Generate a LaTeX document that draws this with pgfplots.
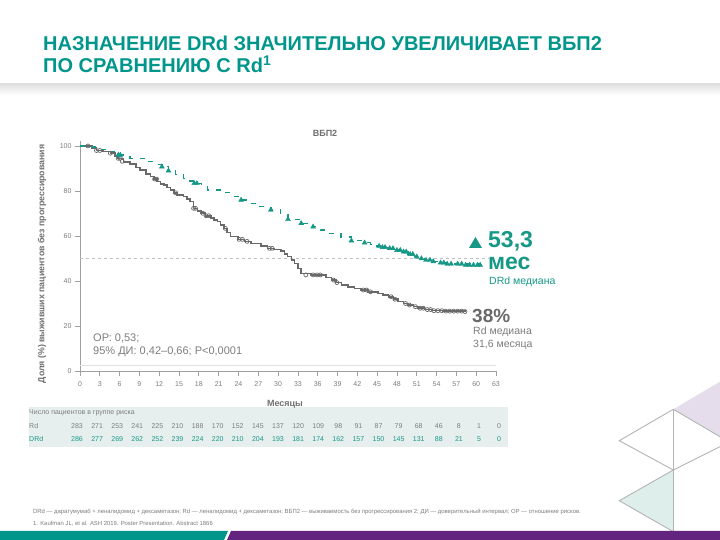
\documentclass[border=0pt]{standalone}
\usepackage{pgfplots}
\pgfplotsset{compat=1.18}
\usepackage{fontspec}
\setmainfont{Liberation Sans}

\definecolor{brandteal}{RGB}{0,150,140}
\definecolor{drdteal}{RGB}{22,152,134}
\definecolor{rdgray}{RGB}{105,105,105}
\definecolor{axisgray}{RGB}{160,160,160}
\definecolor{txtgray}{RGB}{125,125,125}
\definecolor{bandgray}{RGB}{231,239,238}
\definecolor{brandpurple}{RGB}{98,36,126}
\definecolor{lilac}{RGB}{229,221,235}
\definecolor{mint}{RGB}{221,238,235}
\definecolor{linegray}{RGB}{180,180,180}

\begin{document}
\begin{tikzpicture}[x=1pt,y=1pt]
\useasboundingbox (0,0) rectangle (720,540);
\fill[white] (0,0) rectangle (720,540);

% header shadow
\shade[top color=black!12, bottom color=white] (0,456) rectangle (720,445);

% title
\node[anchor=base west, inner sep=0pt, text=brandteal, font=\bfseries\fontsize{20}{22}\selectfont]
  at (43,489) {НАЗНАЧЕНИЕ DRd ЗНАЧИТЕЛЬНО УВЕЛИЧИВАЕТ ВБП2};
\node[anchor=base west, inner sep=0pt, text=brandteal, font=\bfseries\fontsize{20}{22}\selectfont]
  at (43,467) {ПО СРАВНЕНИЮ С Rd\textsuperscript{1}};

% risk table band
\fill[bandgray] (29,133) rectangle (508,93);

\begin{axis}[
  at={(80pt,169pt)}, anchor=south west,
  scale only axis, width=416pt, height=229.5pt,
  xmin=0, xmax=63, ymin=0, ymax=102,
  axis x line=bottom, axis y line=left,
  axis line style={-, draw=axisgray, line width=0.8pt},
  xtick={0,3,...,63}, ytick={0,20,...,100},
  tick align=outside, major tick length=5pt,
  tick style={draw=axisgray, line width=0.8pt},
  xticklabel style={font=\fontsize{7}{8}\selectfont, text=txtgray, yshift=-2pt},
  yticklabel style={font=\fontsize{7}{8}\selectfont, text=txtgray},
  /pgf/number format/assume math mode=true,
  clip=false,
]
% faint guide lines
\addplot[draw=black!12, line width=0.6pt] coordinates {(0,2.7)(63,2.7)};
\addplot[draw=black!25, dashed, line width=0.5pt] coordinates {(0,50)(62,50)};

% Rd
\addplot[const plot, draw=rdgray, line width=1.6pt] coordinates {
(0,100)(1.2,100)(1.8,99)(2.5,98)(3.5,97.5)(4.6,96.8)(5.3,95.5)(5.8,94.5)
(6.6,92.8)(7.6,92)(8.5,90.5)(9.1,89.3)(10,87.5)(10.7,86.4)(11.2,85.3)(11.7,84.2)
(12.2,83.2)(12.7,82.7)(13.2,81.5)(13.7,80.4)(14.2,79.2)(14.7,78.2)(15.7,77.5)
(16.2,76.4)(16.7,75.3)(17.2,72.3)(17.8,71.2)(18.3,70.1)(19,69)(19.8,67.9)
(20.3,67.2)(20.8,66.4)(21.3,65)(21.8,63.4)(22.3,61.5)(22.8,59.7)(23.9,58.5)
(24.9,57.6)(25.9,56.7)(27.4,55.6)(28.4,54.5)(29.4,54)(30.4,53.2)(31,52)
(31.4,50.8)(32,49.3)(32.5,47.8)(33,45.5)(33.5,43.4)(35,42.7)(36.5,42.7)
(37.3,41.5)(38.1,40.4)(38.8,39.3)(39.6,38.2)(40.6,37.4)(41.6,36.7)(42.6,36)
(43.6,35.2)(45.1,34.5)(45.9,33.8)(46.7,33)(47.5,31.9)(48.2,30.8)(49,30)
(49.7,29.3)(50.5,28.6)(51.2,27.9)(52.2,27.3)(53.3,26.8)(55,26.6)(58.3,26.4)
};
\addplot[only marks, mark=o, mark size=2pt, rdgray, mark options={line width=0.7pt}] coordinates {
(1.2,100)(2.5,98)(3,98)(4.6,96.8)(5.8,94.5)(6.1,94.5)(6.4,93.2)
(11.3,85.3)(11.6,85.3)(14.5,79.2)(17.2,72.3)(17.5,72.3)(18.6,70.1)(19.1,69)
(19.5,69)(22,63.4)(24.1,58.5)(24.6,58.5)(25.3,57.6)(28.7,54.5)(29.1,54.5)
(34.2,42.7)(35.3,42.7)(35.9,42.7)(36.4,42.7)(38.4,40.4)(38.9,39.3)
(42.9,36)(43.4,36)(44,35.2)(47.1,33)(47.7,31.9)(49.3,30)(49.9,29.3)
(50.8,28.6)(51.5,27.9)(52,27.9)(52.6,27.3)(53.1,27.3)(53.6,26.8)(54.2,26.8)
(54.8,26.8)(55.4,26.6)(56,26.6)(56.6,26.6)(57.2,26.6)(57.8,26.6)(58.3,26.4)
};

% DRd
\addplot[const plot, draw=drdteal, line width=1.4pt, dash pattern=on 5pt off 7pt] coordinates {
(0,100)(1.5,99.5)(3,98.5)(4.5,97.5)(5.8,96)(7.6,94.5)(10.1,93)(11.3,91.9)
(12.4,90.8)(13.4,89)(14.5,87.3)(15.7,85.6)(16.6,84.5)(17.5,83.4)(18.4,81.9)
(19.3,80.4)(21.8,79.2)(23.1,77.6)(24.4,76)(25.6,74.5)(26.9,73)(28.9,71.6)
(30.4,69.6)(31.5,67.4)(33.5,65.6)(35.3,64.1)(36.4,62.6)(37.5,61.2)(39.5,59.5)
(41.1,57.9)(43.1,57)(44,56.3)(45,55.5)(45.8,55)(46.7,54.5)(47.7,53.7)
(48.7,53)(49.7,51.9)(50.7,50.8)(51.5,50)(52.2,49.3)(53.2,48.7)(54.3,48.1)
(56.8,47.6)(60.6,47.1)
};
\addplot[only marks, mark=triangle*, mark size=2.8pt, drdteal] coordinates {
(5.8,96)(6.1,96)(12.4,90.8)(13.4,89)(17.3,83.4)(17.7,83.4)(24.4,76)
(28.9,71.6)(31.5,67.4)(33.5,65.6)(35.3,64.1)(41.1,57.9)(43.1,57)
(45.3,55.5)(45.8,55)(46.2,55)(46.9,54.5)(47.4,54.5)(48,53.7)(48.5,53.7)
(49,53)(49.4,53)(50,51.9)(50.4,51.9)(51,50.8)(51.7,50)(52.4,49.3)
(53,49.3)(53.5,48.7)(54.6,48.1)(55.1,48.1)(55.6,47.6)(56.2,47.6)(57.2,47.6)
(57.8,47.6)(58.4,47.1)(59,47.1)(59.6,47.1)(60.2,47.1)(60.6,47.1)
};
\end{axis}

% axis texts
\node[font=\bfseries\fontsize{9}{10}\selectfont, text=txtgray!90!black] at (325,407) {ВБП2};
\node[font=\bfseries\fontsize{9}{10}\selectfont, text=txtgray!90!black] at (285,136) {Месяцы};
\node[rotate=90, font=\bfseries\fontsize{8.8}{10}\selectfont, text=txtgray!90!black] at (42,276)
  {Доля (\%) выживших пациентов без прогрессирования};

\node[anchor=west, inner sep=0pt, font=\fontsize{11}{12}\selectfont, text=txtgray] at (93,202) {ОР: 0,53;};
\node[anchor=west, inner sep=0pt, font=\fontsize{11}{12}\selectfont, text=txtgray] at (93,188) {95\% ДИ: 0,42–0,66; P<0,0001};

% median annotations
\fill[drdteal] (469,292) -- (482,292) -- (475.5,303) -- cycle;
\node[anchor=west, inner sep=0pt, font=\bfseries\fontsize{23}{25}\selectfont, text=drdteal] at (488,299) {53,3};
\node[anchor=west, inner sep=0pt, font=\bfseries\fontsize{23}{25}\selectfont, text=drdteal] at (488,277) {мес};
\node[anchor=west, inner sep=0pt, font=\fontsize{10.5}{11}\selectfont, text=drdteal] at (489,258) {DRd медиана};

\node[anchor=west, inner sep=0pt, font=\bfseries\fontsize{19}{21}\selectfont, text=rdgray] at (472,224) {38\%};
\node[anchor=west, inner sep=0pt, font=\fontsize{10.5}{11}\selectfont, text=txtgray] at (473,208) {Rd медиана};
\node[anchor=west, inner sep=0pt, font=\fontsize{10.5}{11}\selectfont, text=txtgray] at (473,195) {31,6 месяца};

% risk table
\node[anchor=west, inner sep=0pt, font=\fontsize{7}{8}\selectfont, text=txtgray] at (29,127) {Число пациентов в группе риска};
\node[anchor=west, inner sep=0pt, font=\fontsize{7}{8}\selectfont, text=txtgray] at (29,114) {Rd};
\node[anchor=west, inner sep=0pt, font=\fontsize{7}{8}\selectfont, text=drdteal] at (29,101) {DRd};
\foreach \v [count=\k from 0] in {283,271,253,241,225,210,188,170,152,145,137,120,109,98,91,87,79,68,46,8,1,0}
  \node[font=\fontsize{7}{8}\selectfont, text=txtgray] at (77+\k*20.1,114) {\v};
\foreach \v [count=\k from 0] in {286,277,269,262,252,239,224,220,210,204,193,181,174,162,157,150,145,131,88,21,5,0}
  \node[font=\fontsize{7}{8}\selectfont, text=drdteal] at (77+\k*20.1,101) {\v};

% footnotes
\node[anchor=west, inner sep=0pt, font=\fontsize{5.9}{7}\selectfont, text=txtgray] at (33,28)
  {DRd — даратумумаб + леналидомид + дексаметазон; Rd — леналидомид + дексаметазон; ВБП2 — выживаемость без прогрессирования 2; ДИ — доверительный интервал; ОР — отношение рисков.};
\node[anchor=west, inner sep=0pt, font=\fontsize{5.9}{7}\selectfont, text=txtgray] at (33,16)
  {1. Kaufman JL, et al. ASH 2019. Poster Presentation. Abstract 1866};

% right decoration
\fill[lilac] (673.3,130.7) -- (720,158.3) -- (720,103.3) -- cycle;
\fill[mint] (619.3,39.3) -- (673.3,70) -- (673.3,8.3) -- cycle;
\draw[linegray, line width=0.9pt] (673.3,8.3) -- (673.3,130.7);
\draw[linegray, line width=0.9pt] (673.3,130.7) -- (619.3,99.3) -- (673.3,70);
\draw[linegray, line width=0.9pt] (673.3,130.7) -- (720,103.3);
\draw[linegray, line width=0.9pt] (673.3,70) -- (720,93.3);
\draw[linegray, line width=0.9pt] (673.3,70) -- (619.3,39.3) -- (673.3,8.3);

% bottom band
\fill[brandteal] (0,0) -- (224,0) -- (228,9) -- (0,9) -- cycle;
\fill[brandpurple] (227,0) -- (720,0) -- (720,9) -- (231,9) -- cycle;
\end{tikzpicture}
\end{document}
